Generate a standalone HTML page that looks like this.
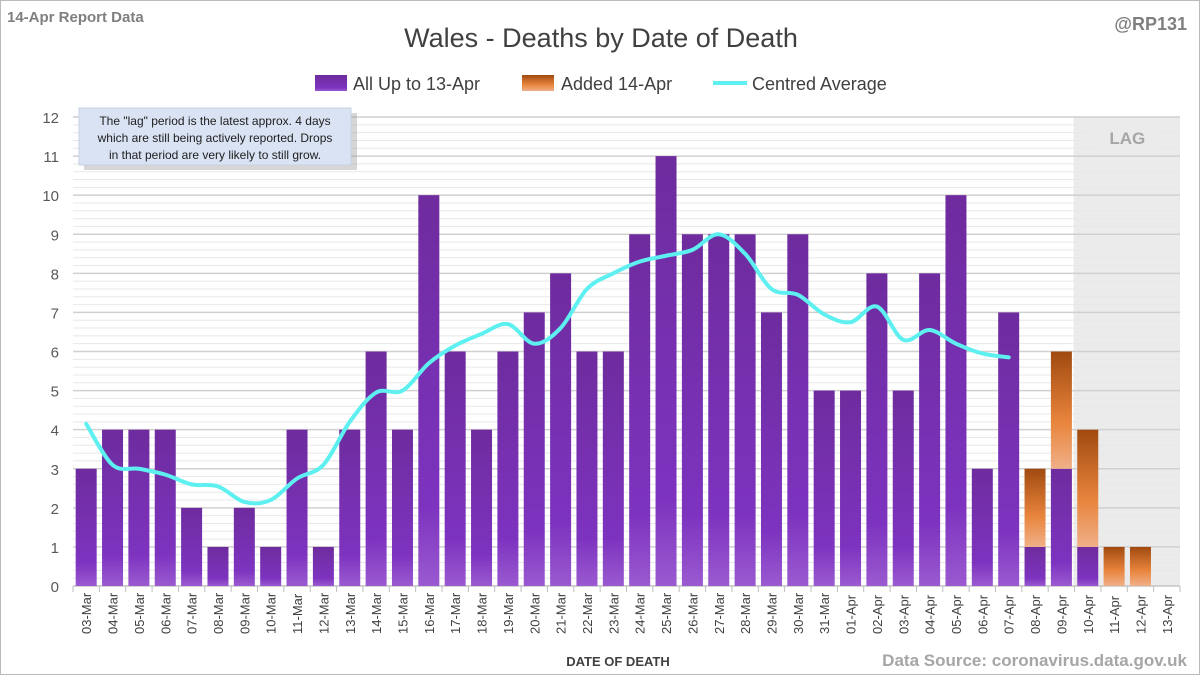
<!DOCTYPE html>
<html><head><meta charset="utf-8"><style>
body{margin:0;background:#fff;font-family:"Liberation Sans",sans-serif}
#wrap{position:relative;width:1198px;height:673px;border:1px solid #bbb;overflow:hidden}
</style></head><body>
<div id="wrap">
<svg id="c" width="1198" height="673" xmlns="http://www.w3.org/2000/svg"></svg>
</div>
<script>
const categories=["03-Mar","04-Mar","05-Mar","06-Mar","07-Mar","08-Mar","09-Mar","10-Mar","11-Mar","12-Mar","13-Mar","14-Mar","15-Mar","16-Mar","17-Mar","18-Mar","19-Mar","20-Mar","21-Mar","22-Mar","23-Mar","24-Mar","25-Mar","26-Mar","27-Mar","28-Mar","29-Mar","30-Mar","31-Mar","01-Apr","02-Apr","03-Apr","04-Apr","05-Apr","06-Apr","07-Apr","08-Apr","09-Apr","10-Apr","11-Apr","12-Apr","13-Apr"];
const baseValues=[3,4,4,4,2,1,2,1,4,1,4,6,4,10,6,4,6,7,8,6,6,9,11,9,9,9,7,9,5,5,8,5,8,10,3,7,1,3,1,0,0,0];
const addedValues=[0,0,0,0,0,0,0,0,0,0,0,0,0,0,0,0,0,0,0,0,0,0,0,0,0,0,0,0,0,0,0,0,0,0,0,0,2,3,3,1,1,0];
const avgValues=[4.15,3.1,3.0,2.85,2.6,2.55,2.15,2.2,2.75,3.1,4.2,4.95,5.0,5.7,6.15,6.45,6.7,6.2,6.6,7.6,8.0,8.3,8.45,8.6,9.0,8.5,7.6,7.45,6.95,6.75,7.15,6.3,6.55,6.2,5.95,5.85];
const yTicks=[0,1,2,3,4,5,6,7,8,9,10,11,12];
const lagStart=38;

const NS="http://www.w3.org/2000/svg",svg=document.getElementById('c');
const L=72,R=1179,T=116,B=585,step=(R-L)/categories.length;
const x=i=>L+step*i, y=v=>B-(B-T)*v/12;
function el(t,a,p){const e=document.createElementNS(NS,t);for(const k in a)e.setAttribute(k,a[k]);(p||svg).appendChild(e);return e;}
const defs=el('defs',{});
defs.innerHTML=`<linearGradient id="gp" x1="0" y1="0" x2="0" y2="1"><stop offset="0" stop-color="#6e2c9e"/><stop offset="0.8" stop-color="#7d33bf"/><stop offset="1" stop-color="#9a5ad0"/></linearGradient>
<linearGradient id="go" x1="0" y1="0" x2="0" y2="1"><stop offset="0" stop-color="#a04a10"/><stop offset="0.6" stop-color="#e8843c"/><stop offset="1" stop-color="#f0b088"/></linearGradient>`;
// lag shade
let lag=el('rect',{x:x(lagStart)-1,y:T,width:R-x(lagStart)+1,height:B-T,fill:'#ebebeb'});

// grid
for(let v=0;v<=12;v+=0.2){const major=Math.abs(v-Math.round(v))<0.01;
el('line',{x1:L,x2:R,y1:y(v),y2:y(v),stroke:major?'#d0d0d0':'#e8e8e8','stroke-width':major?1.5:1});}
el('rect',{x:x(lagStart)+20,y:126,width:R-x(lagStart)-40,height:22,fill:'#ebebeb'});
let lt=el('text',{x:(x(lagStart)+R)/2,y:143,'text-anchor':'middle','font-size':17,'font-weight':'bold',fill:'#a6a6a6'});lt.textContent='LAG';

yTicks.forEach(t=>{const e=el('text',{x:58,y:y(t)+6,'text-anchor':'end','font-size':15,fill:'#595959'});e.textContent=t;
});
el('line',{x1:L,x2:R,y1:B,y2:B,stroke:'#bfbfbf'});
// bars
const bw=21;
categories.forEach((c,i)=>{
 const cx=x(i)+step/2;
 if(baseValues[i]>0){const r=el('rect',{x:cx-bw/2,y:y(baseValues[i]),width:bw,height:B-y(baseValues[i]),fill:'url(#gp)'});
 }
 if(addedValues[i]>0){const top=baseValues[i]+addedValues[i];const r=el('rect',{x:cx-bw/2,y:y(top),width:bw,height:y(baseValues[i])-y(top),fill:'url(#go)'});
 }
 el('line',{x1:x(i),x2:x(i),y1:B,y2:B+6,stroke:'#bfbfbf'});
 const t=el('text',{transform:`translate(${cx+5},${B+48}) rotate(-90)`,'font-size':13,fill:'#404040'});t.textContent=c;
 
});
el('line',{x1:R,x2:R,y1:B,y2:B+6,stroke:'#bfbfbf'});
// avg line (smooth)
const pts=avgValues.map((v,i)=>[x(i)+step/2,y(v)]);
let d=`M${pts[0][0]},${pts[0][1]}`;
for(let i=0;i<pts.length-1;i++){const p0=pts[i-1]||pts[i],p1=pts[i],p2=pts[i+1],p3=pts[i+2]||p2;
d+=` C${p1[0]+(p2[0]-p0[0])/6},${p1[1]+(p2[1]-p0[1])/6} ${p2[0]-(p3[0]-p1[0])/6},${p2[1]-(p3[1]-p1[1])/6} ${p2[0]},${p2[1]}`;}
const ln=el('path',{d,fill:'none',stroke:'#5ef0f0','stroke-width':4,'stroke-linecap':'round'});

// texts
function tx(s,a,name){const e=el('text',a);e.textContent=s;return e;}
tx('Wales - Deaths by Date of Death',{x:600,y:46,'text-anchor':'middle','font-size':27,fill:'#404040'},'chart-title');
tx('14-Apr Report Data',{x:6,y:21,'font-size':15,'font-weight':'bold',fill:'#7f7f7f'},'report-date');
tx('@RP131',{x:1186,y:29,'text-anchor':'end','font-size':18,'font-weight':'bold',fill:'#7f7f7f'},'author-handle');
tx('DATE OF DEATH',{x:617,y:665,'text-anchor':'middle','font-size':13,'font-weight':'bold',fill:'#404040'},'x-axis-title');
tx('Data Source: coronavirus.data.gov.uk',{x:1186,y:665,'text-anchor':'end','font-size':17,'font-weight':'bold',fill:'#a6a6a6'},'data-source');
// legend
let g=el('g',{});
el('rect',{x:314,y:74,width:32,height:16,fill:'url(#gp)'},g);
g.appendChild(tx('All Up to 13-Apr',{x:352,y:89,'font-size':18,fill:'#404040'},'legend-entry-all'));
el('rect',{x:521,y:74,width:32,height:16,fill:'url(#go)'},g);
g.appendChild(tx('Added 14-Apr',{x:560,y:89,'font-size':18,fill:'#404040'},'legend-entry-added'));
el('line',{x1:712,x2:746,y1:82,y2:82,stroke:'#5ef0f0','stroke-width':4},g);
g.appendChild(tx('Centred Average',{x:751,y:89,'font-size':18,fill:'#404040'},'legend-entry-average'));
// note box
el('rect',{x:80,y:109,width:273,height:57,fill:'#999',opacity:0.4,transform:'translate(3,3)'});
const nb=el('rect',{x:78,y:107,width:272,height:57,fill:'#dae3f3',stroke:'#c8d0e0'});

['The "lag" period is the latest approx. 4 days','which are still being actively reported.  Drops','in that period are very likely to still grow.'].forEach((s,i)=>
tx(s,{x:214,y:124+i*17,'text-anchor':'middle','font-size':12,fill:'#202020'},'lag-note-line'));
</script>
</body></html>
